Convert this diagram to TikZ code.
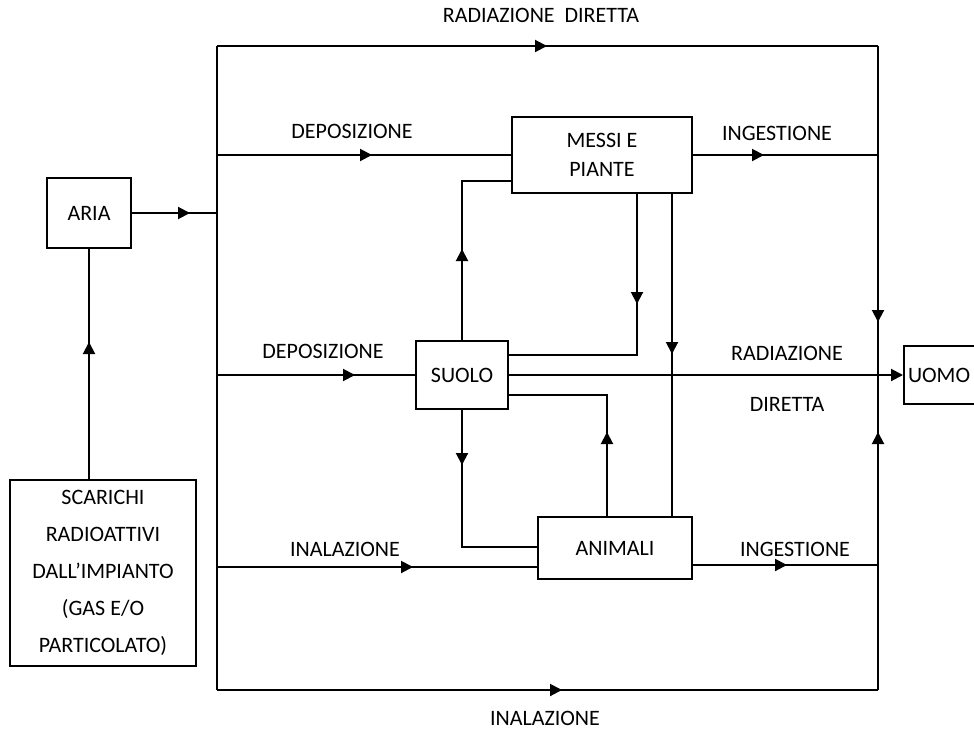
\documentclass[tikz,border=0pt]{standalone}
\usepackage{fontspec}
\setmainfont{Carlito}
\usepackage{tikz}
\usetikzlibrary{arrows.meta,positioning,calc,decorations.markings}

\tikzset{
	box/.style={draw,line width=2pt,align=center,inner sep=0pt},
	lbl/.style={inner sep=0pt},
	flow/.style={decoration={markings,mark=at position #1 with {\arrow{Triangle[length=12pt,width=12pt]}}},postaction={decorate}},
}

\begin{document}
\begin{tikzpicture}[x=1pt,y=-1pt,line width=2pt,font=\fontsize{22}{26}\selectfont]
	\useasboundingbox (0,0) rectangle (974,731);

	% boxes
	\node[box,minimum width=84pt,minimum height=70pt ] (aria)     at (89,213  ) {ARIA};
	\node[box,minimum width=186pt,minimum height=186pt,font=\fontsize{22}{37}\selectfont] (scarichi) at (103,573) {SCARICHI\\RADIOATTIVI\\DALL'IMPIANTO\\(GAS E/O\\PARTICOLATO)};
	\node[box,minimum width=180pt,minimum height=76pt,font=\fontsize{22}{29}\selectfont] (messi) at (602,155) {MESSI E\\PIANTE};
	\node[box,minimum width=92pt,minimum height=68pt ] (suolo)    at (462,375 ) {SUOLO};
	\node[box,minimum width=154pt,minimum height=62pt] (animali)  at (615,548 ) {ANIMALI};
	\node[box,anchor=west,minimum height=58pt,text width=80pt,align=left,inner xsep=4pt] (uomo) at (903,375) {UOMO};

	% frame
	\coordinate (tl) at (217,46 );
	\coordinate (tr) at (878,46 );
	\coordinate (bl) at (217,690);
	\coordinate (br) at (878,690);

	\draw[flow=330pt] (tl) -- (tr);
	\draw[flow=345pt] (bl) -- (br);
	\draw (tl) -- (bl);
	\draw[flow=276pt] (tr) -- (tr |- uomo.west);
	\draw[flow=258pt] (br) -- (br |- uomo.west);

	% connectors
	\draw[flow=58pt ] (aria.east) -- (aria.east -| tl);
	\draw[flow=137pt] (aria.south |- scarichi.north) -- (aria.south);
	\draw[flow=155pt] (messi.west -| tl) -- (messi.west);
	\draw[flow=71pt ] (messi.east) -- (messi.east -| tr);
	\draw[flow=138pt] (suolo.west -| tl) -- (suolo.west);
	\draw[-{Triangle[length=12pt,width=12pt]}] (suolo.east) -- (uomo.west);
	\draw[flow=91pt ] (suolo.north) |- ([yshift=-26pt]messi.west);
	\draw[flow=110pt] ([xshift=35pt]messi.south) |- ([yshift=20pt]suolo.east);
	\draw[flow=160pt] ([xshift=70pt]messi.south) -- ([xshift=70pt]messi.south |- animali.north);
	\draw[flow=84pt ] ([xshift=-8pt]animali.north) |- ([yshift=-20pt]suolo.east);
	\draw[flow=55pt ] (suolo.south) |- ([yshift=1pt]animali.west);
	\draw[flow=196pt] ([yshift=-19pt]animali.west -| tl) -- ([yshift=-19pt]animali.west);
	\draw[flow=94pt ] ([yshift=-17pt]animali.east) -- ([yshift=-17pt]animali.east -| br);

	% labels
	\node[lbl] (lraddir) at (541,15 ) {RADIAZIONE\ \ DIRETTA};
	\node[lbl] (ldep1)   at (352,131) {DEPOSIZIONE};
	\node[lbl] (ling1)   at (777,133) {INGESTIONE};
	\node[lbl] (ldep2)   at (323,351) {DEPOSIZIONE};
	\node[lbl] (lrad)    at (787,353) {RADIAZIONE};
	\node[lbl] (ldir)    at (787,404) {DIRETTA};
	\node[lbl] (linal1)  at (345,549) {INALAZIONE};
	\node[lbl] (ling2)   at (795,549) {INGESTIONE};
	\node[lbl] (linal2)  at (545,718) {INALAZIONE};
\end{tikzpicture}
\end{document}
